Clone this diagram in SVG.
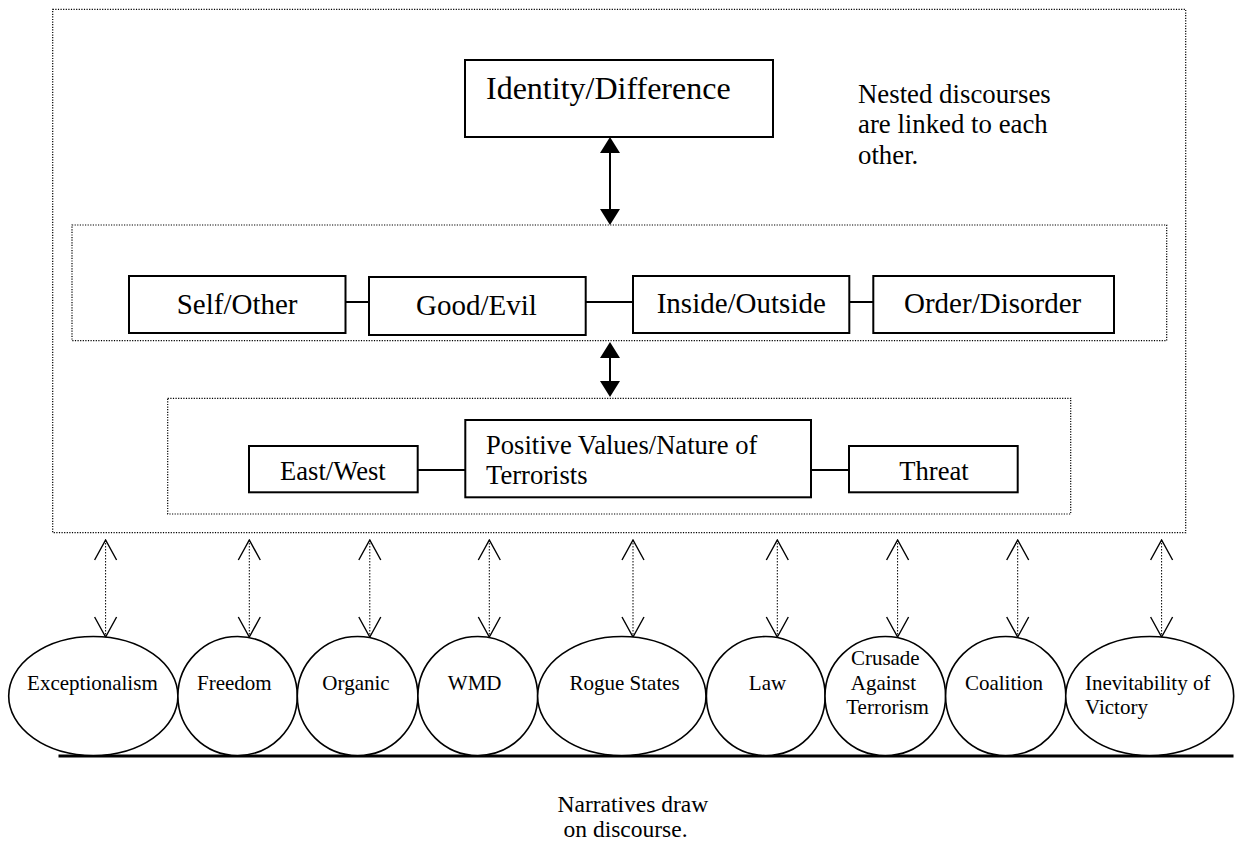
<svg xmlns="http://www.w3.org/2000/svg" width="1239" height="844" viewBox="0 0 1239 844">
<style>
text{font-family:"Liberation Serif","Times New Roman",serif;fill:#000}
.dot{fill:none;stroke:#000;stroke-width:1.2;stroke-dasharray:1.2 1.4}
.box{fill:#fff;stroke:#000;stroke-width:2}
.ell{fill:#fff;stroke:#000;stroke-width:1.6}
.l2{font-size:29px}
.l3{font-size:26.6px}
.nar{font-size:21px}
.note{font-size:26.8px}
.link{stroke:#000;stroke-width:2;fill:none}
.big{stroke:#000;stroke-width:2;fill:none}
.small{stroke:#000;stroke-width:1;stroke-dasharray:1.5 1.5;fill:none}
</style>
<defs>
<marker id="solid" viewBox="0 0 16 20" refX="0" refY="10" markerWidth="16" markerHeight="20" markerUnits="userSpaceOnUse" orient="auto-start-reverse">
<path d="M0,0 L16,10 L0,20 z" fill="#000" stroke="none"/>
</marker>
<marker id="open" viewBox="-1 -1 22 24" refX="20" refY="11" markerWidth="22" markerHeight="24" markerUnits="userSpaceOnUse" orient="auto-start-reverse">
<path d="M0,0 L20,11 L0,22" fill="none" stroke="#000" stroke-width="1.4" stroke-dasharray="none"/>
</marker>
</defs>

<g id="frames">
<rect class="dot" x="52.7" y="9.3" width="1133" height="523.4"/>
<rect class="dot" x="72" y="225" width="1094.7" height="115.7"/>
<rect class="dot" x="167.7" y="398.3" width="903" height="115.7"/>
</g>

<g id="connectors">
<line class="big" x1="610" y1="153" x2="610" y2="209" marker-start="url(#solid)" marker-end="url(#solid)"/>
<line class="big" x1="610" y1="358" x2="610" y2="381" marker-start="url(#solid)" marker-end="url(#solid)"/>
<line class="link" x1="345.5" y1="302" x2="369" y2="302"/>
<line class="link" x1="585.7" y1="302" x2="633" y2="302"/>
<line class="link" x1="849.3" y1="302" x2="873.3" y2="302"/>
<line class="link" x1="417.7" y1="470" x2="465.3" y2="470"/>
<line class="link" x1="811" y1="470" x2="849" y2="470"/>
<line class="small" x1="105.6" y1="540" x2="105.6" y2="637" marker-start="url(#open)" marker-end="url(#open)"/>
<line class="small" x1="249.3" y1="540" x2="249.3" y2="637" marker-start="url(#open)" marker-end="url(#open)"/>
<line class="small" x1="369.8" y1="540" x2="369.8" y2="637" marker-start="url(#open)" marker-end="url(#open)"/>
<line class="small" x1="489.3" y1="540" x2="489.3" y2="637" marker-start="url(#open)" marker-end="url(#open)"/>
<line class="small" x1="633" y1="540" x2="633" y2="637" marker-start="url(#open)" marker-end="url(#open)"/>
<line class="small" x1="777.3" y1="540" x2="777.3" y2="637" marker-start="url(#open)" marker-end="url(#open)"/>
<line class="small" x1="897.6" y1="540" x2="897.6" y2="637" marker-start="url(#open)" marker-end="url(#open)"/>
<line class="small" x1="1017.7" y1="540" x2="1017.7" y2="637" marker-start="url(#open)" marker-end="url(#open)"/>
<line class="small" x1="1161.6" y1="540" x2="1161.6" y2="637" marker-start="url(#open)" marker-end="url(#open)"/>
</g>

<g id="identity">
<rect class="box" x="465" y="60" width="308" height="77"/>
<text x="486" y="99" font-size="32">Identity/Difference</text>
</g>

<g id="note">
<text class="note" x="858" y="103">Nested discourses</text>
<text class="note" x="858" y="133">are linked to each</text>
<text class="note" x="858" y="164">other.</text>
</g>

<g id="self-other">
<rect class="box" x="129" y="276" width="216.5" height="57"/>
<text class="l2" x="176.7" y="314">Self/Other</text>
</g>
<g id="good-evil">
<rect class="box" x="369" y="277" width="216.7" height="58"/>
<text class="l2" x="416" y="315">Good/Evil</text>
</g>
<g id="inside-outside">
<rect class="box" x="633" y="276" width="216.3" height="57"/>
<text class="l2" x="656.7" y="313">Inside/Outside</text>
</g>
<g id="order-disorder">
<rect class="box" x="873.3" y="276" width="240.7" height="57"/>
<text class="l2" x="904" y="313">Order/Disorder</text>
</g>

<g id="east-west">
<rect class="box" x="249" y="446" width="168.7" height="46.3"/>
<text class="l3" x="280" y="480">East/West</text>
</g>
<g id="positive-values">
<rect class="box" x="465.3" y="420" width="345.7" height="77.3"/>
<text class="l3" x="486" y="454">Positive Values/Nature of</text>
<text class="l3" x="486" y="484">Terrorists</text>
</g>
<g id="threat">
<rect class="box" x="849" y="446" width="168.7" height="46.3"/>
<text class="l3" x="899.3" y="480">Threat</text>
</g>

<g id="baseline">
<line x1="58.5" y1="756" x2="1233.5" y2="756" stroke="#000" stroke-width="3"/>
</g>

<g id="exceptionalism">
<ellipse class="ell" cx="93.3" cy="696" rx="84.6" ry="59.5"/>
<text class="nar" x="92.4" y="690" text-anchor="middle">Exceptionalism</text>
</g>
<g id="freedom">
<ellipse class="ell" cx="237.6" cy="696" rx="59.7" ry="59.5"/>
<text class="nar" x="234.3" y="690" text-anchor="middle">Freedom</text>
</g>
<g id="organic">
<ellipse class="ell" cx="357.6" cy="696" rx="60.3" ry="59.5"/>
<text class="nar" x="356" y="690" text-anchor="middle">Organic</text>
</g>
<g id="wmd">
<ellipse class="ell" cx="477.8" cy="696" rx="59.9" ry="59.5"/>
<text class="nar" x="474.7" y="690" text-anchor="middle">WMD</text>
</g>
<g id="rogue-states">
<ellipse class="ell" cx="621.8" cy="696" rx="84.2" ry="59.5"/>
<text class="nar" x="624.6" y="690" text-anchor="middle">Rogue States</text>
</g>
<g id="law">
<ellipse class="ell" cx="765.8" cy="696" rx="59.4" ry="59.5"/>
<text class="nar" x="767.5" y="690" text-anchor="middle">Law</text>
</g>
<g id="crusade">
<ellipse class="ell" cx="885.3" cy="696" rx="60.3" ry="59.5"/>
<text class="nar" x="885.3" y="665" text-anchor="middle">Crusade</text>
<text class="nar" x="883.4" y="690" text-anchor="middle">Against</text>
<text class="nar" x="887.5" y="714" text-anchor="middle">Terrorism</text>
</g>
<g id="coalition">
<ellipse class="ell" cx="1005.7" cy="696" rx="60.1" ry="59.5"/>
<text class="nar" x="1004" y="690" text-anchor="middle">Coalition</text>
</g>
<g id="inevitability">
<ellipse class="ell" cx="1149.7" cy="696" rx="84" ry="59.5"/>
<text class="nar" x="1085" y="690">Inevitability of</text>
<text class="nar" x="1085" y="714">Victory</text>
</g>

<g id="caption">
<text x="557.5" y="811.7" font-size="23.5">Narratives draw</text>
<text x="563.5" y="836.7" font-size="23.5">on discourse.</text>
</g>
</svg>
